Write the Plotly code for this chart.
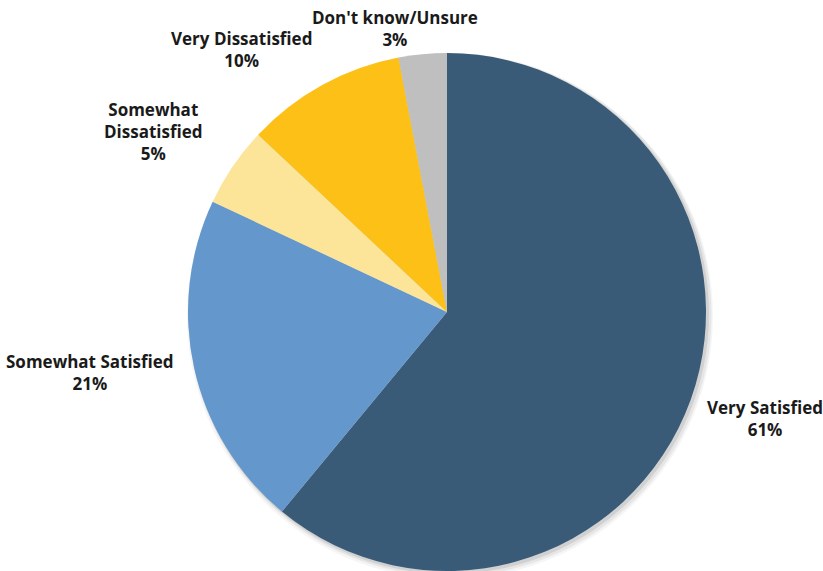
import plotly.graph_objects as go

categories = ["Very Satisfied", "Somewhat Satisfied", "Somewhat Dissatisfied",
              "Very Dissatisfied", "Don't know/Unsure"]
values = [61, 21, 5, 10, 3]
colors = ["#3A5B78", "#6497CC", "#FCE598", "#FCC016", "#BFBFBF"]
label_texts = ["Very Satisfied<br>61%", "Somewhat Satisfied<br>21%",
               "Somewhat<br>Dissatisfied<br>5%", "Very Dissatisfied<br>10%",
               "Don't know/Unsure<br>3%"]
label_pos = [(765, 418), (90, 372), (153, 131), (241, 50), (395, 29)]

W, H = 823, 571
cx, cy, r = 447, 312, 259

fig = go.Figure()

# soft shadow layers (shapes below the pie)
for dx, dy, grow, a in [(3, 4, 4, 0.04), (3, 3, 2.5, 0.06), (2, 2, 1, 0.09)]:
    fig.add_shape(type="circle", xref="paper", yref="paper", layer="below",
                  x0=(cx - r + dx - grow) / W, x1=(cx + r + dx + grow) / W,
                  y0=1 - (cy + r + dy + grow) / H, y1=1 - (cy - r + dy - grow) / H,
                  fillcolor=f"rgba(0,0,0,{a})", line=dict(width=0))

fig.add_trace(go.Pie(
    labels=categories, values=values,
    marker=dict(colors=colors, line=dict(width=0)),
    sort=False, direction="clockwise", rotation=0,
    textinfo="none", showlegend=False,
    domain=dict(x=[(cx - r) / W, (cx + r) / W],
                y=[max(0, 1 - (cy + r) / H), 1 - (cy - r) / H]),
))

for txt, (x, y) in zip(label_texts, label_pos):
    fig.add_annotation(x=x / W, y=1 - y / H, xref="paper", yref="paper",
                       text=txt, showarrow=False, align="center",
                       xanchor="center", yanchor="middle",
                       font=dict(family="Open Sans", size=17, color="#1a1a1a", weight="bold"))

fig.update_layout(width=W, height=H, margin=dict(l=0, r=0, t=0, b=0),
                  paper_bgcolor="white", plot_bgcolor="white",
                  xaxis=dict(visible=False), yaxis=dict(visible=False))
fig.write_html("out.html")
